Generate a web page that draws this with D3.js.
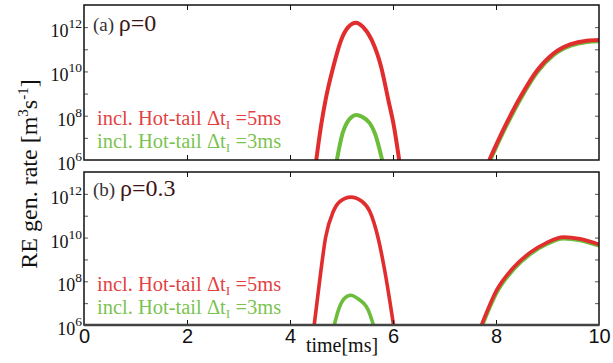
<!DOCTYPE html>
<html>
<head>
<meta charset="utf-8">
<script src="https://cdn.jsdelivr.net/npm/d3@7"></script>
<style>
  html, body { margin: 0; padding: 0; background: #fff; }
  svg { display: block; }
</style>
</head>
<body>
<svg id="chart" width="613" height="363"></svg>
<script>
// RE generation rate vs time, two radial positions, log y axis.
// Values below: time [ms] and log10(rate).

const RED = "#e12d2d", GREEN = "#6cbd3c";
const SERIF = "'Liberation Serif', 'DejaVu Serif', serif";
const SANS = "'Liberation Sans', Arial, sans-serif";

// panel (a) rho = 0
const aRed1T   = [4.51, 4.60, 4.69, 4.84, 4.99, 5.13, 5.28, 5.42, 5.59, 5.77, 5.91, 6.02, 6.12];
const aRed1E   = [6.0,  7.5,  8.7, 10.2, 11.4, 12.0, 12.2, 12.0, 11.4, 10.2,  8.7,  7.5,  6.0];
const aGreen1T = [4.91, 5.02, 5.10, 5.20, 5.29, 5.40, 5.55, 5.65, 5.79];
const aGreen1E = [6.0,  7.2,  7.66, 7.95, 8.03, 7.95, 7.66, 7.2,  6.0];
const aRed2T   = [7.87, 8.14, 8.47, 8.79, 9.11, 9.44, 9.76, 10.0];
const aRed2E   = [6.0,  7.36, 8.83, 10.02, 10.80, 11.22, 11.39, 11.42];
const aGreen2T = [7.89, 8.15, 8.48, 8.80, 9.12, 9.45, 9.77, 10.0];
const aGreen2E = [6.0,  7.30, 8.77, 9.96, 10.74, 11.16, 11.33, 11.36];

// panel (b) rho = 0.3
const bRed1T   = [4.47, 4.60, 4.69, 4.84, 4.97, 5.18, 5.40, 5.55, 5.71, 5.84, 6.01];
const bRed1E   = [6.0,  8.48, 9.99, 11.19, 11.65, 11.85, 11.65, 11.19, 9.99, 8.48, 6.0];
const bGreen1T = [4.86, 4.94, 5.05, 5.18, 5.32, 5.52, 5.62];
const bGreen1E = [6.0,  6.68, 7.2,  7.36, 7.2,  6.68, 6.0];
const bRed2T   = [7.72, 8.01, 8.34, 8.66, 8.98, 9.31, 9.63, 10.0];
const bRed2E   = [6.0,  7.58, 8.63, 9.31, 9.76, 10.02, 9.94, 9.69];
const bGreen2T = [7.74, 8.02, 8.35, 8.67, 8.99, 9.31, 9.63, 10.0];
const bGreen2E = [6.0,  7.50, 8.56, 9.25, 9.70, 9.95, 9.87, 9.62];

const xTicks = [0, 2, 4, 6, 8, 10];
const yMinorExps = [7, 8, 9, 10, 11, 12];
const yLabelExps = [6, 8, 10, 12];
const legendText = ["=5ms", "=3ms"];

const panels = [
  { id: "a", label: "(a)", rho: "\u03c1=0", top: 5, bottom: 160, labelDy: 26,
    series: [[aGreen1T, aGreen1E, GREEN], [aGreen2T, aGreen2E, GREEN],
             [aRed1T, aRed1E, RED], [aRed2T, aRed2E, RED]], legendY: [125, 148] },
  { id: "b", label: "(b)", rho: "\u03c1=0.3", top: 172, bottom: 325, labelDy: 24,
    series: [[bGreen1T, bGreen1E, GREEN], [bGreen2T, bGreen2E, GREEN],
             [bRed1T, bRed1E, RED], [bRed2T, bRed2E, RED]], legendY: [291, 314] },
];

const svg = d3.select("#chart");
const L = 84, Rt = 599;
const x = d3.scaleLinear().domain([0, 10]).range([L, Rt]);

panels.forEach((p, pi) => {
  const y = d3.scaleLog().domain([1e6, 1e13]).range([p.bottom, p.top]);
  const g = svg.append("g");

  svg.append("clipPath").attr("id", "clip-" + p.id)
    .append("rect").attr("x", L).attr("y", p.top)
    .attr("width", Rt - L).attr("height", p.bottom - p.top);

  // curves
  const line = d3.line().x((d) => x(d[0])).y((d) => y(Math.pow(10, d[1])))
    .curve(d3.curveMonotoneX);
  const cg = g.append("g").attr("clip-path", `url(#clip-${p.id})`);
  p.series.forEach(([ts, es, col]) => {
    cg.append("path").datum(ts.map((t, i) => [t, es[i]]))
      .attr("d", line).attr("fill", "none").attr("stroke", col)
      .attr("stroke-width", pi === 0 ? 4 : 3.6).attr("stroke-linejoin", "round");
  });

  // y ticks, inward on both sides
  const yTickVals = yMinorExps.map((e) => Math.pow(10, e));
  g.append("g").attr("transform", `translate(${L},0)`)
    .call(d3.axisLeft(y).tickValues(yTickVals).tickSize(-4).tickFormat(""))
    .call((s) => s.select(".domain").remove())
    .call((s) => s.selectAll("line").attr("stroke", "#555"));
  g.append("g").attr("transform", `translate(${Rt},0)`)
    .call(d3.axisRight(y).tickValues(yTickVals).tickSize(-4).tickFormat(""))
    .call((s) => s.select(".domain").remove())
    .call((s) => s.selectAll("line").attr("stroke", "#555"));

  // x ticks, inward on top and bottom
  const inner = xTicks.filter((v) => v > 0 && v < 10);
  g.append("g").attr("transform", `translate(0,${p.top})`)
    .call(d3.axisTop(x).tickValues(inner).tickSize(-5).tickFormat(""))
    .call((s) => s.select(".domain").remove())
    .call((s) => s.selectAll("line").attr("stroke", "#111"));
  g.append("g").attr("transform", `translate(0,${p.bottom})`)
    .call(d3.axisBottom(x).tickValues(inner).tickSize(-5).tickFormat(""))
    .call((s) => s.select(".domain").remove())
    .call((s) => s.selectAll("line").attr("stroke", "#111"));

  // frame
  g.append("rect").attr("x", L).attr("y", p.top)
    .attr("width", Rt - L).attr("height", p.bottom - p.top)
    .attr("fill", "none").attr("stroke", "#111").attr("stroke-width", 1.5);
  if (pi === 1) {
    g.append("line").attr("x1", L).attr("x2", Rt)
      .attr("y1", p.bottom).attr("y2", p.bottom)
      .attr("stroke", "#444").attr("stroke-width", 2.5);
  }

  // y labels 10^n
  yLabelExps.forEach((e) => {
    const t = g.append("text").style("font-family", SERIF)
      .attr("x", 82).attr("y", y(Math.pow(10, e)) + 10)
      .attr("text-anchor", "end").attr("font-size", 18).attr("fill", "#111");
    t.append("tspan").text("10");
    t.append("tspan").attr("dy", -9).attr("font-size", 13.5).text(e);
  });

  // panel label
  const lt = g.append("text").style("font-family", SERIF)
    .attr("x", 93).attr("y", p.top + p.labelDy);
  lt.append("tspan").attr("font-size", 19).attr("fill", "#333").text(p.label + " ");
  lt.append("tspan").attr("font-size", 24).attr("fill", "#3d1616").text(p.rho);

  // legend
  [RED, GREEN].forEach((col, i) => {
    const t = g.append("text").style("font-family", SERIF)
      .attr("x", 97).attr("y", p.legendY[i]).attr("font-size", 20.5)
      .attr("fill", col).attr("fill-opacity", 0.92);
    t.append("tspan").text("incl. Hot-tail \u0394t");
    t.append("tspan").attr("dy", 4).attr("font-size", 13.5).text("I");
    t.append("tspan").attr("dy", -4).text(" " + legendText[i]);
  });

  // x tick labels under panel b
  if (pi === 1) {
    g.append("g").attr("transform", `translate(0,${p.bottom})`)
      .call(d3.axisBottom(x).tickValues(xTicks).tickSize(0).tickPadding(4)
        .tickFormat(d3.format("d")))
      .call((s) => s.select(".domain").remove())
      .call((s) => s.selectAll("text").style("font-family", SANS)
        .attr("font-size", 20).attr("fill", "#111"));
  }
});

// axis titles
svg.append("text").style("font-family", SERIF)
  .attr("x", 342).attr("y", 352).attr("text-anchor", "middle")
  .attr("font-size", 20).attr("fill", "#111").text("time[ms]");

const yt = svg.append("text").style("font-family", SERIF)
  .attr("transform", "translate(37,174) rotate(-90)")
  .attr("text-anchor", "middle").attr("font-size", 24).attr("fill", "#111");
yt.append("tspan").text("RE gen. rate [m");
yt.append("tspan").attr("dy", -9).attr("font-size", 15).text("3");
yt.append("tspan").attr("dy", 9).text("s");
yt.append("tspan").attr("dy", -9).attr("font-size", 15).text("-1");
yt.append("tspan").attr("dy", 9).text("]");
</script>
</body>
</html>
